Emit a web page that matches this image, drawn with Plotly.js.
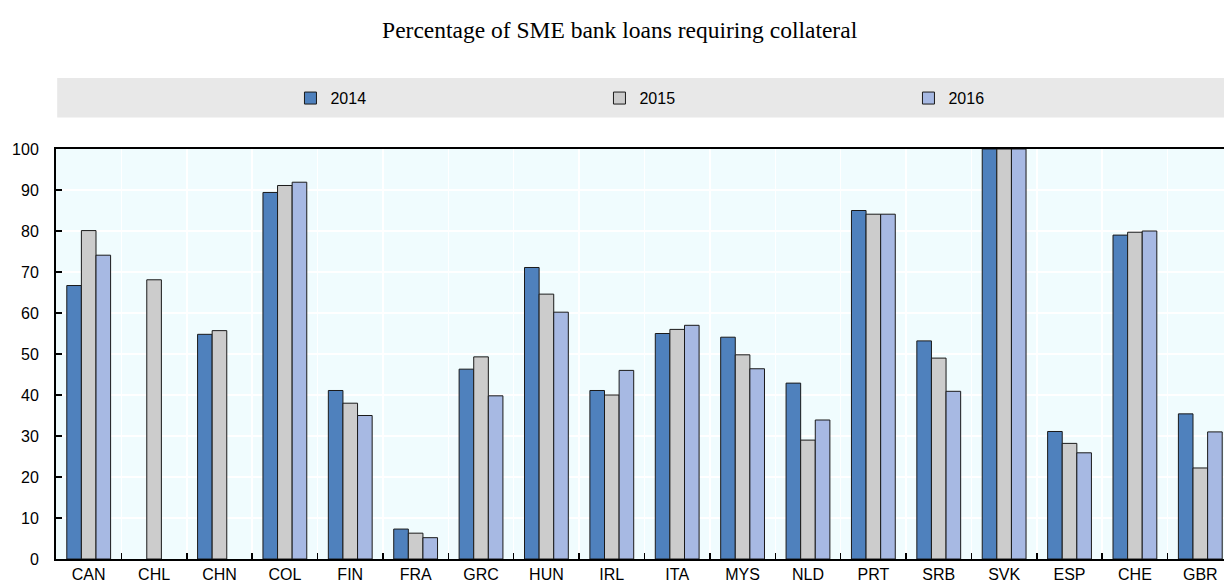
<!DOCTYPE html>
<html>
<head>
<meta charset="utf-8">
<script src="https://cdn.plot.ly/plotly-3.0.1.min.js"></script>
<style>
html,body{margin:0;padding:0;overflow:hidden;background:#fff;}
#chart{width:1240px;height:585px;}
</style>
</head>
<body>
<div id="chart"></div>
<script>
const categories = ["CAN","CHL","CHN","COL","FIN","FRA","GRC","HUN","IRL","ITA","MYS","NLD","PRT","SRB","SVK","ESP","CHE","GBR"];
const values2014 = [66.7, null, 54.8, 89.4, 41.1, 7.3, 46.3, 71.1, 41.1, 55.0, 54.1, 42.9, 85.0, 53.2, 100, 31.1, 79.0, 35.4];
const values2015 = [80.1, 68.1, 55.7, 91.1, 38.0, 6.3, 49.3, 64.6, 40.0, 56.0, 49.8, 29.0, 84.1, 49.0, 100, 28.2, 79.7, 22.2];
const values2016 = [74.1, null, null, 91.9, 35.0, 5.2, 39.8, 60.2, 46.0, 57.0, 46.4, 33.9, 84.1, 40.9, 100, 25.9, 80.0, 31.0];
const seriesNames = ["2014","2015","2016"];
const yTicks = [0,10,20,30,40,50,60,70,80,90,100];

const colors = ["#4f81bd","#cccccc","#a7b9e3"];
const series = [values2014, values2015, values2016];
const tickFont = {family:"'Liberation Sans Narrow', 'Arial Narrow', 'Liberation Sans', Arial, sans-serif", size:16, color:"#000"};

const traces = series.map((vals, i) => ({
  type:"bar",
  name: seriesNames[i],
  x: categories,
  y: vals,
  marker:{color: colors[i], line:{color:"#1a1a1a", width:1}},
  hoverinfo:"x+y+name"
}));

const layout = {
  width:1240, height:585,
  margin:{l:56, r:7, t:149, b:26},
  paper_bgcolor:"#ffffff",
  plot_bgcolor:"#f0fcfe",
  barmode:"group",
  bargap:0.33,
  bargroupgap:0,
  title:{text:"Percentage of SME bank loans requiring collateral",
         font:{family:"'Liberation Serif', 'Times New Roman', serif", size:23.5, color:"#000"},
         x:0.4997, xanchor:"center", y:0.949, yanchor:"middle"},
  showlegend:true,
  legend:{orientation:"h", x:0.1992, xanchor:"left", y:1.124, yanchor:"middle",
          bgcolor:"rgba(0,0,0,0)", entrywidth:264, entrywidthmode:"pixels",
          font:{family:"'Liberation Sans', Arial, sans-serif", size:16, color:"#000"},
          traceorder:"normal"},
  shapes:[{type:"rect", xref:"paper", yref:"paper", x0:0.001, x1:1.02, y0:1.077, y1:1.173,
           fillcolor:"#e8e8e8", line:{width:0}, layer:"below"}],
  xaxis:{type:"category", tickson:"boundaries", ticks:"inside", ticklen:6, tickcolor:"#000", tickwidth:1.5,
         showgrid:true, gridcolor:"#ffffff", gridwidth:1.5,
         showline:true, linecolor:"#000", linewidth:2, mirror:true,
         tickfont:tickFont, fixedrange:true},
  yaxis:{range:[0,100], tickvals:yTicks, ticks:"inside", ticklen:6, tickcolor:"#000", tickwidth:1.5,
         showgrid:true, gridcolor:"#ffffff", gridwidth:1.5, zeroline:false,
         showline:true, linecolor:"#000", linewidth:2, mirror:false,
         tickfont:tickFont, ticklabelstandoff:12, fixedrange:true}
};

Plotly.newPlot("chart", traces, layout, {displayModeBar:false, staticPlot:true});
</script>
</body>
</html>
